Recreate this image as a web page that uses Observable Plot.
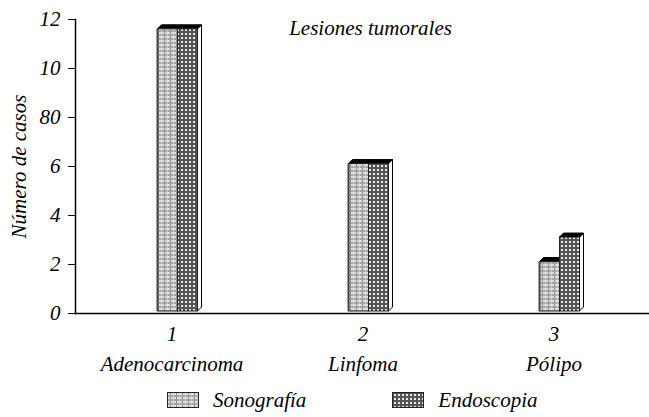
<!DOCTYPE html>
<html>
<head>
<meta charset="utf-8">
<script src="https://cdn.jsdelivr.net/npm/d3@7"></script>
<script src="https://cdn.jsdelivr.net/npm/@observablehq/plot@0.6"></script>
<style>
  body { margin: 0; background: #fff; font-family: "Liberation Serif", "Tinos", "Times New Roman", Times, "Nimbus Roman No9 L", "FreeSerif", "DejaVu Serif", serif; }
  #wrap { width: 649px; height: 417px; position: relative; overflow: hidden; }
  #legend { position: absolute; left: 0; top: 385px; width: 649px; height: 30px; display: flex; align-items: center; font-style: italic; font-size: 21px; color: #000; }
  .sw { display: inline-block; width: 30px; height: 14px; border: 1px solid #222; margin-right: 14px; }
  .item { display: flex; align-items: center; }
</style>
</head>
<body>
<svg width="0" height="0" style="position:absolute">
  <defs>
    <pattern id="pSono" patternUnits="userSpaceOnUse" width="6" height="4">
      <rect width="6" height="4" fill="#a4a4a4"/>
      <rect x="0" y="0" width="6" height="2" fill="#dedede"/>
      <rect x="2" y="0" width="1" height="2" fill="#8a8a8a"/>
      <rect x="5" y="2" width="1" height="2" fill="#c8c8c8"/>
    </pattern>
    <pattern id="pEndo" patternUnits="userSpaceOnUse" width="4" height="4">
      <rect width="4" height="4" fill="#555555"/>
      <rect x="1" y="1" width="2" height="2" fill="#e8e8e8"/>
    </pattern>
  </defs>
</svg>
<div id="wrap">
  <div id="chart"></div>
  <div id="legend"></div>
</div>
<script>
const categories = ["Adenocarcinoma", "Linfoma", "Pólipo"];
const categoryNumbers = ["1", "2", "3"];
const series = ["Sonografía", "Endoscopia"];
const sonografia = [11.6, 6.1, 2.1];
const endoscopia = [11.6, 6.1, 3.1];
const yTicks = [0, 2, 4, 6, 8, 10, 12];
const yTickLabels = ["0", "2", "4", "6", "80", "10", "12"];
const title = "Lesiones tumorales";
const yTitle = "Número de casos";

const patterns = {"Sonografía": "url(#pSono)", "Endoscopia": "url(#pEndo)"};
const seriesValues = [sonografia, endoscopia];
const data = [];
categories.forEach((c, i) => series.forEach((s, j) => data.push({category: c, series: s, si: j, value: seriesValues[j][i]})));

const font = "'Liberation Serif', Tinos, 'Times New Roman', Times, 'Nimbus Roman No9 L', FreeSerif, 'DejaVu Serif', serif";

function bars3d(index, scales, values, dims) {
  const g = d3.create("svg:g");
  const barW = 20, depth = 4, shift = -14;
  for (const d of data) {
    const cx = scales.x(d.category) + scales.x.bandwidth() / 2;
    const x0 = cx + shift + d.si * barW;
    const x1 = x0 + barW;
    const yt = scales.y(d.value);
    const yb = scales.y(0) - 2;
    g.append("path")
      .attr("d", `M${x1},${yt}L${x1 + depth},${yt - depth}L${x1 + depth},${yb - depth}L${x1},${yb}Z`)
      .attr("fill", "#fff").attr("stroke", "#000").attr("stroke-width", 1);
    g.append("path")
      .attr("d", `M${x0},${yt}L${x0 + depth},${yt - depth}L${x1 + depth},${yt - depth}L${x1},${yt}Z`)
      .attr("fill", "#000").attr("stroke", "#000").attr("stroke-width", 1);
    g.append("rect")
      .attr("x", x0).attr("y", yt).attr("width", barW).attr("height", yb - yt)
      .attr("fill", patterns[d.series]).attr("stroke", "#222").attr("stroke-width", 1);
    if (d.si === 0) {
      g.append("line").attr("x1", x0).attr("x2", x0).attr("y1", yt).attr("y2", yb)
        .attr("stroke", "#444").attr("stroke-width", 2);
    }
  }
  return g.node();
}

const chart = Plot.plot({
  width: 649,
  height: 380,
  marginLeft: 75,
  marginRight: 0,
  marginTop: 19,
  marginBottom: 67,
  style: {fontFamily: font, fontStyle: "italic", fontSize: "21px", color: "#000", background: "#fff"},
  x: {type: "band", domain: categories, padding: 0},
  y: {type: "linear", domain: [0, 12]},
  marks: [
    Plot.frame({anchor: "left", stroke: "#000", strokeWidth: 1.5}),
    Plot.frame({anchor: "bottom", stroke: "#000", strokeWidth: 1.5}),
    Plot.axisY({ticks: yTicks, tickFormat: (d) => yTickLabels[yTicks.indexOf(d)], tickSize: 7, tickPadding: 8,
      fontSize: 21, fontStyle: "italic", fontFamily: font, label: yTitle, labelAnchor: "center", labelArrow: "none", labelOffset: 64, stroke: "#000"}),
    Plot.axisX({tickFormat: (d) => categoryNumbers[categories.indexOf(d)] + "\n" + d, tickSize: 0, tickPadding: 7,
      fontSize: 21, fontStyle: "italic", fontFamily: font, lineHeight: 1.4, label: null}),
    bars3d,
    Plot.text([title], {frameAnchor: "top", dy: 9, dx: 8, fontSize: 21, fontStyle: "italic", fontFamily: font, lineAnchor: "middle", text: (d) => d})
  ]
});
document.getElementById("chart").appendChild(chart);

const legend = document.getElementById("legend");
legend.style.paddingLeft = "167px";
legend.style.boxSizing = "border-box";
series.forEach((s, i) => {
  const it = document.createElement("span");
  it.className = "item";
  if (i > 0) it.style.marginLeft = "86px";
  const sw = document.createElement("span");
  sw.className = "sw";
  sw.innerHTML = `<svg width="30" height="14" style="display:block"><rect width="30" height="14" fill="${patterns[s]}"/></svg>`;
  it.appendChild(sw);
  const t = document.createElement("span");
  t.textContent = s;
  it.appendChild(t);
  legend.appendChild(it);
});
</script>
</body>
</html>
